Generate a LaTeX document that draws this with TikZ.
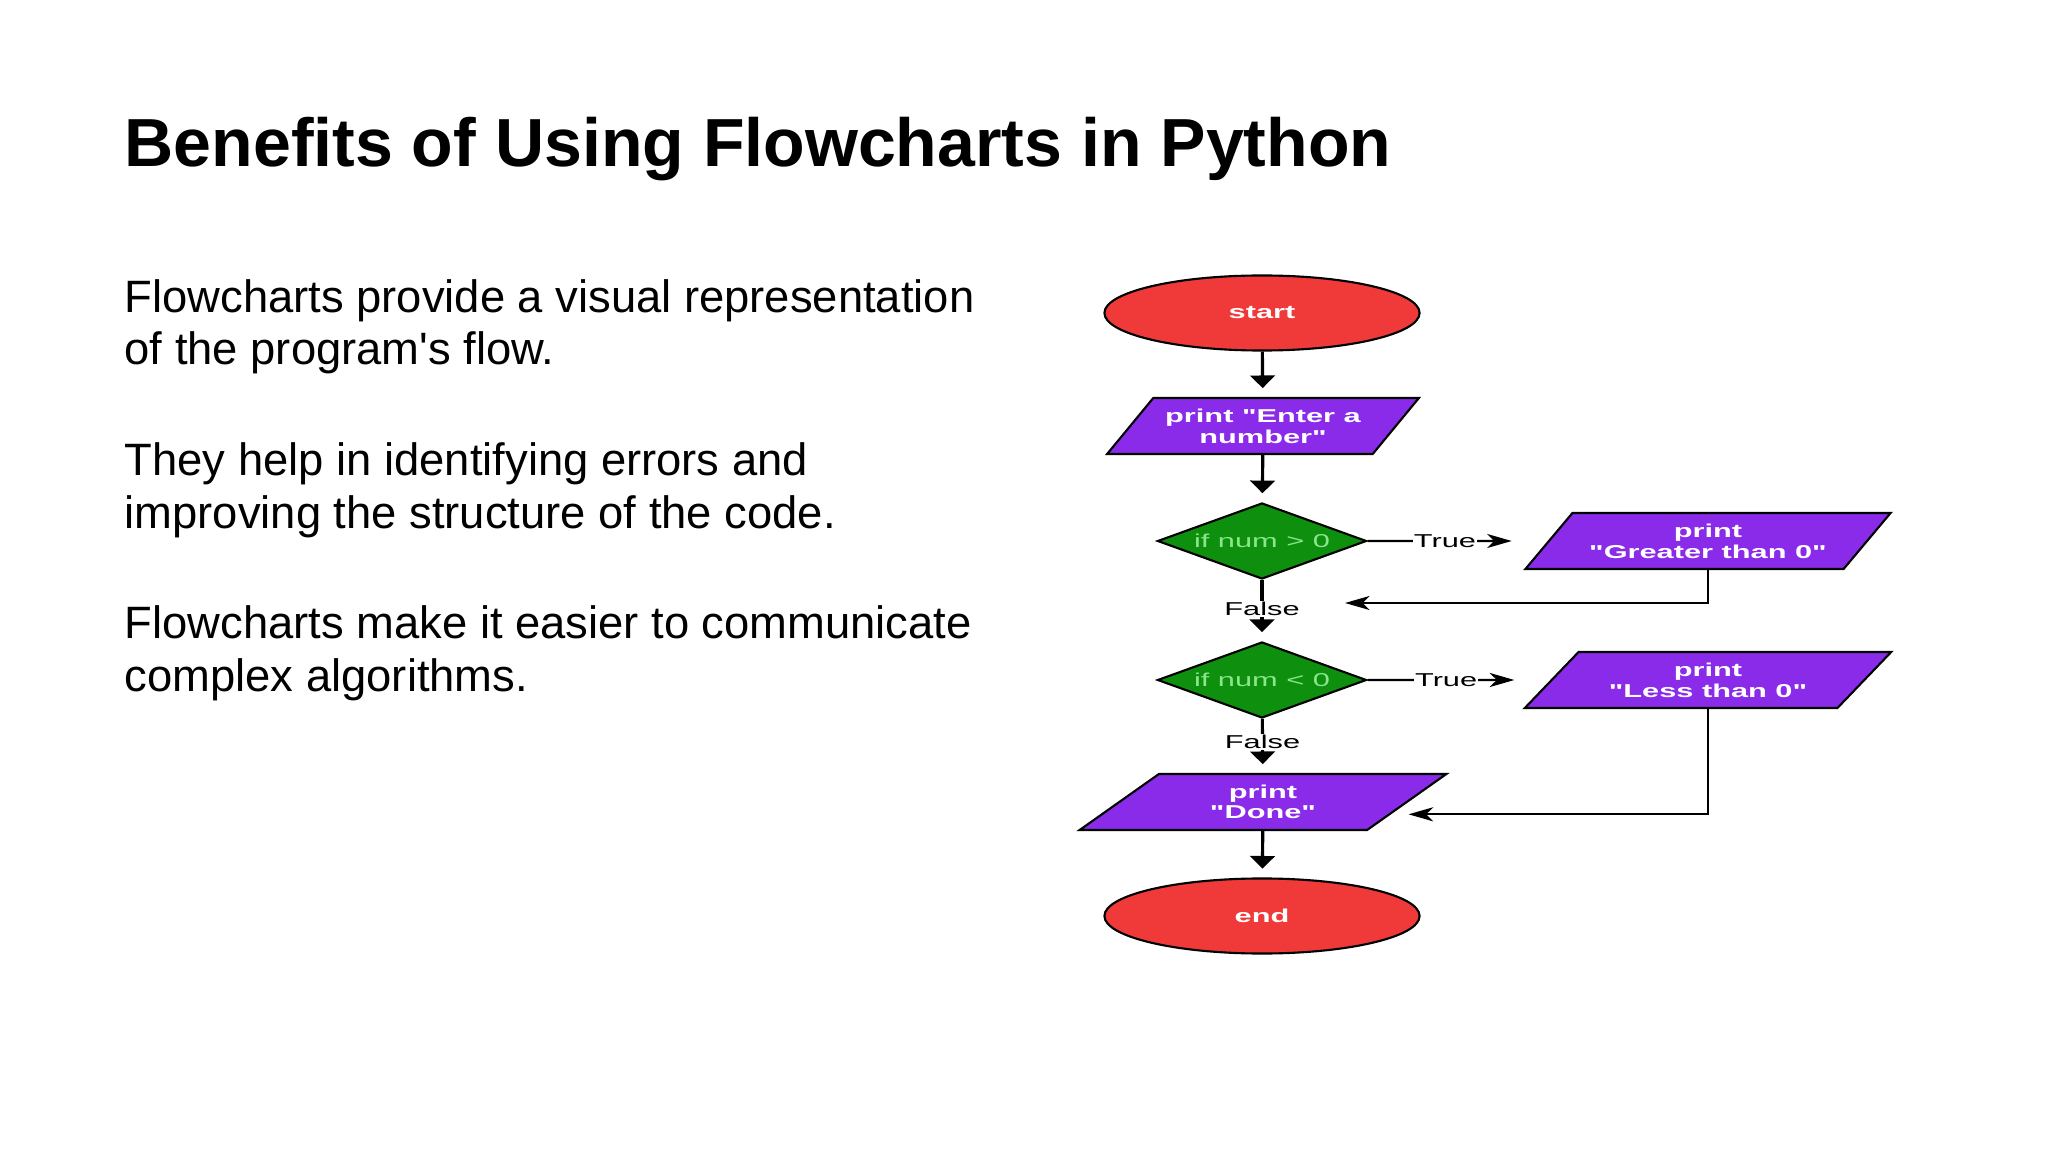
\documentclass[tikz,border=0pt]{standalone}
\usepackage{fontspec}
\setmainfont{Liberation Sans}
\newfontfamily\chartfont[FakeStretch=1.65]{Liberation Sans}
\usetikzlibrary{arrows.meta,positioning,shapes.geometric}
\definecolor{Red}{HTML}{F03A3A}
\definecolor{Violet}{HTML}{8B2BEA}
\definecolor{Leaf}{HTML}{0E900E}
\definecolor{Mint}{HTML}{8AE68A}

\tikzset{
  terminal/.style={ellipse,draw=black,line width=0.6pt,fill=Red,text=white,
    minimum width=3.15cm,minimum height=0.75cm,inner sep=0pt,
    font=\chartfont\bfseries\fontsize{5.3}{4.6}\selectfont},
  io/.style={trapezium,trapezium left angle=40,trapezium right angle=140,
    trapezium stretches=true,draw=black,line width=0.6pt,fill=Violet,text=white,
    minimum height=0.56cm,inner sep=0pt,align=center,
    font=\chartfont\bfseries\fontsize{5.3}{4.6}\selectfont},
  decision/.style={diamond,aspect=2.75,draw=black,line width=0.6pt,fill=Leaf,text=Mint,
    minimum width=2.09cm,minimum height=0.76cm,inner sep=0pt,
    font=\chartfont\fontsize{5.3}{4.6}\selectfont},
  flow/.style={-{Triangle[width=7pt,length=3.6pt]},line width=0.9pt,shorten >=2.5pt},
  branch/.style={-{Stealth[length=7pt,width=4pt,inset=2pt]},line width=0.6pt},
  tag/.style={fill=white,inner sep=0.3pt,font=\chartfont\fontsize{5.3}{5.3}\selectfont}
}

\begin{document}
\begin{tikzpicture}[x=0.01cm,y=-0.01cm]
  \useasboundingbox (0,0) rectangle (2048,1152);
  \node[anchor=base west,inner sep=0pt,font=\bfseries\fontsize{19.35}{23}\selectfont] (title) at (124,167) {Benefits of Using Flowcharts in Python};
  \foreach \y/\txt [count=\i] in {365/{Flowcharts provide a visual representation\\of the program\textquotesingle s flow.},
      528/{They help in identifying errors and\\improving the structure of the code.},
      691/{Flowcharts make it easier to communicate\\complex algorithms.}} {
    \node[anchor=base west,inner sep=0pt,align=left,font=\fontsize{12.9}{14.8}\selectfont] (para\i) at (124,\y) {\txt};
  }

  \node[terminal] (start) at (1262,313) {start};
  \node[io,minimum width=3.13cm] (enter) at (1263,426) {print "Enter a\\number"};
  \node[decision] (d1) at (1262,541) {if num > 0};
  \node[io,minimum width=3.68cm] (gt) at (1708,541) {print\\"Greater than 0"};
  \node[decision] (d2) at (1262,680) {if num < 0};
  \node[io,minimum width=3.67cm] (lt) at (1708,680) {print\\"Less than 0"};
  \node[io,minimum width=3.67cm] (done) at (1263,802) {print\\"Done"};
  \node[terminal] (stop) at (1262,916) {end};
  \coordinate (back1) at (1345,603);

  \draw[flow] (start) -- (enter);
  \draw[flow] (enter) -- (d1);
  \draw[flow] (d1) -- node[tag,pos=0.47]{False} (d2);
  \draw[flow] (d2) -- node[tag,pos=0.43]{False} (done);
  \draw[flow] (done) -- (stop);
  \draw[branch,shorten >=10.2pt] (d1) -- node[tag,pos=0.43]{True} (gt);
  \draw[branch,shorten >=10.2pt] (d2) -- node[tag,pos=0.43]{True} (lt);
  \draw[branch] (gt) |- (back1);
  \draw[branch] (lt) |- ([yshift=-3.5pt]done.east);
\end{tikzpicture}
\end{document}
